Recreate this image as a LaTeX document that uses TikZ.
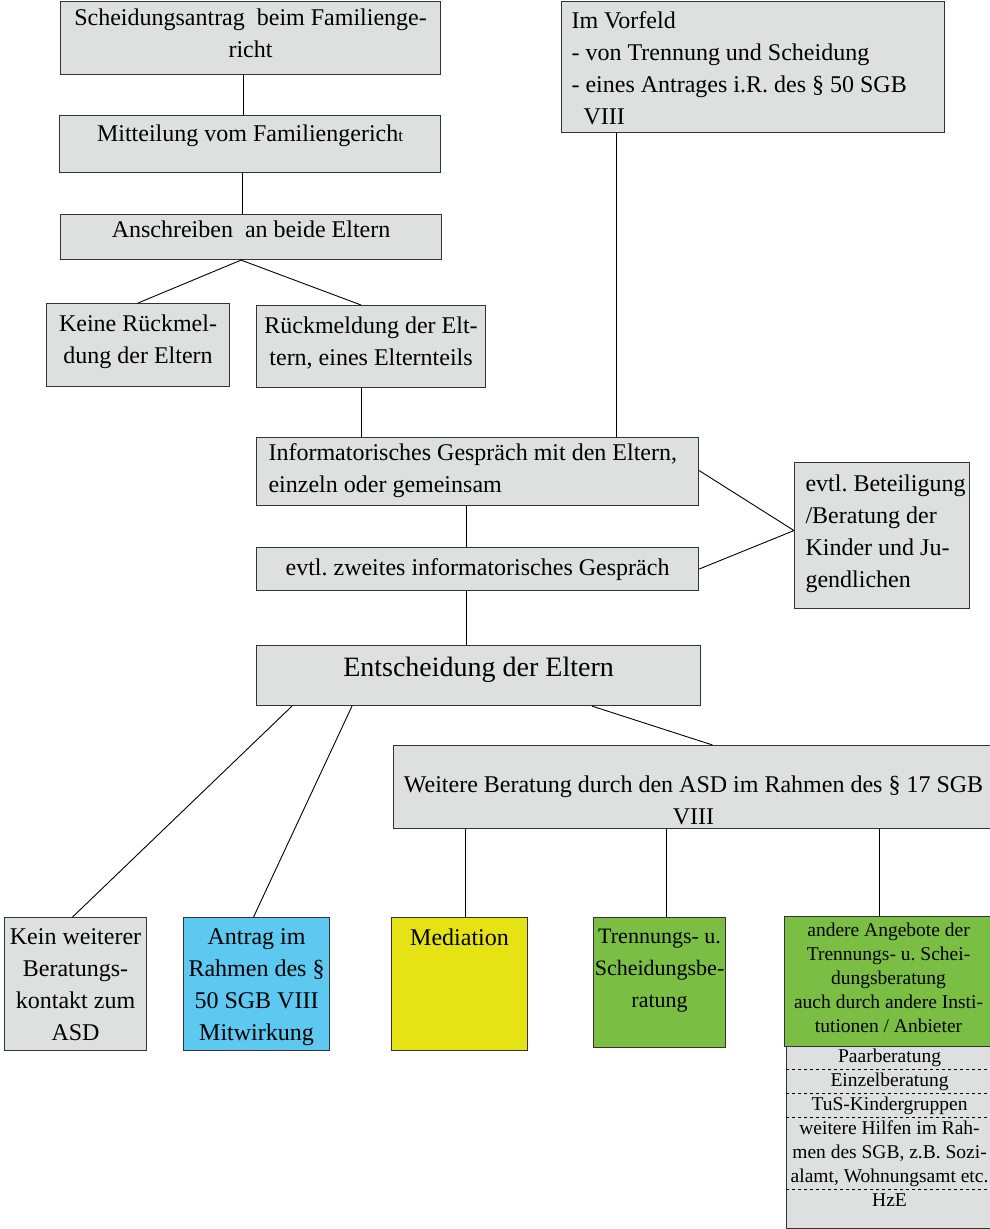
\documentclass[tikz,border=0pt]{standalone}
\usepackage{fontspec}
\setmainfont{Liberation Serif}
\definecolor{boxgrey}{RGB}{221,224,223}
\definecolor{boxblue}{RGB}{93,201,240}
\definecolor{boxyellow}{RGB}{229,227,20}
\definecolor{boxgreen}{RGB}{122,191,67}
\tikzset{
  % boxes are placed by their top left corner, in pixels of the page
  flow box/.style={draw=black!80,line width=1.1pt,inner sep=0pt,anchor=north west,
    font=\fontsize{24}{32}\selectfont},
  grey box/.style={flow box,fill=boxgrey},
  blue box/.style={flow box,fill=boxblue},
  yellow box/.style={flow box,fill=boxyellow},
  green box/.style={flow box,fill=boxgreen},
  small text/.style={font=\fontsize{19.5}{24}\selectfont},
  link/.style={draw,black,line width=0.9pt}
}
% width, height, gap on top, text
\newcommand\boxtext[4]{%
  \parbox[t][#2pt][t]{#1pt}{\frenchspacing\vspace*{#3pt}#4}%
}

\begin{document}
\begin{tikzpicture}[x=1pt,y=-1pt]
\useasboundingbox (0,0) rectangle (990,1229);
% left column
\node[grey box] (antrag) at (60,1) {\boxtext{380}{73}{7}{\centering Scheidungsantrag\ \ beim Familienge-\\richt}};
\node[grey box] (mitteil) at (59,115) {\boxtext{381}{57}{9}{\centering Mitteilung vom Familiengerich{\fontsize{17}{17}\selectfont t}}};
\node[grey box] (anschr) at (60,214) {\boxtext{381}{45}{6}{\centering Anschreiben\ \ an beide Eltern}};
\node[grey box] (keine) at (46,303) {\boxtext{183}{83}{11}{\centering Keine Rückmel-\\dung der Eltern}};
\node[grey box] (rueck) at (256,305) {\boxtext{229}{82}{11}{\centering Rückmeldung der Elt-\\tern, eines Elternteils}};
\node[grey box] (vorfeld) at (561,1) {\boxtext{383}{131}{10}{\raggedright\leftskip=10pt Im Vorfeld\\- von Trennung und Scheidung\\- eines Antrages i.R. des § 50 SGB\\\hspace*{12pt}VIII}};
% talks
\node[grey box] (info) at (256,437) {\boxtext{442}{68}{6}{\raggedright\leftskip=12pt Informatorisches Gespräch mit den Eltern,\\einzeln oder gemeinsam}};
\node[grey box] (zweit) at (256,547) {\boxtext{442}{43}{11}{\centering evtl. zweites informatorisches Gespräch}};
\node[grey box] (beteil) at (794,462) {\boxtext{175}{146}{12}{\raggedright\leftskip=11pt evtl. Beteiligung\\/Beratung der\\Kinder und Ju-\\gendlichen}};
\node[grey box,font=\fontsize{28}{34}\selectfont] (entsch) at (256,645) {\boxtext{444}{60}{12}{\centering Entscheidung der Eltern}};
\node[grey box] (weitere) at (393,745) {\boxtext{600}{83}{30}{\centering Weitere Beratung durch den ASD im Rahmen des § 17 SGB\\VIII}};
% bottom row
\node[grey box] (kein) at (4,917) {\boxtext{142}{133}{11}{\centering Kein weiterer\\Beratungs-\\kontakt zum\\ASD}};
\node[blue box] (mitwirk) at (183,917) {\boxtext{146}{133}{11}{\centering Antrag im\\Rahmen des §\\50 SGB VIII\\Mitwirkung}};
\node[yellow box] (media) at (391,917) {\boxtext{136}{133}{11}{\centering Mediation}};
\node[green box,font=\fontsize{22}{32}\selectfont] (trenn) at (593,917) {\boxtext{132}{130}{12}{\centering Trennungs-~u.\\Scheidungsbe-\\ratung}};
\node[green box,small text] (andere) at (784,916) {\boxtext{208}{130}{6}{\centering andere Angebote der\\Trennungs- u. Schei-\\dungsberatung\\auch durch andere Insti-\\tutionen / Anbieter}};
\node[grey box,small text] (hilfen) at (786,1046) {\boxtext{206}{182}{2}{\centering Paarberatung\\Einzelberatung\\TuS-Kindergruppen\\weitere Hilfen im Rah-\\men des SGB, z.B. Sozi-\\alamt, Wohnungsamt etc.\\HzE}};
\foreach \d in {23,47,71,143}
  \draw[dashed,line width=0.9pt] ([yshift=-\d]hilfen.north west) -- ([yshift=-\d]hilfen.north east);

% connectors
\draw[link] ([xshift=-7]antrag.south) -- ([xshift=-7]antrag.south |- mitteil.north);
\draw[link] ([xshift=-8]mitteil.south) -- ([xshift=-8]mitteil.south |- anschr.north);
\draw[link] (keine.north) -- ([xshift=-10]anschr.south) -- ([xshift=-10]rueck.north);
\draw[link] ([xshift=-10]rueck.south) -- ([xshift=-10]rueck.south |- info.north);
\draw[link] ([xshift=55]vorfeld.south west) -- ([xshift=55]vorfeld.south west |- info.north);
\draw[link] ([xshift=-11]info.south) -- ([xshift=-11]info.south |- zweit.north);
\draw[link] ([xshift=-11]zweit.south) -- ([xshift=-11]zweit.south |- entsch.north);
\draw[link] ([yshift=1]info.east) -- ([yshift=5]beteil.west) -- (zweit.east);
\draw[link] ([xshift=36]entsch.south west) -- ([xshift=-3]kein.north);
\draw[link] ([xshift=96]entsch.south west) -- ([xshift=-3]mitwirk.north);
\draw[link] ([xshift=336]entsch.south west) -- ([xshift=19]weitere.north);
\draw[link] ([xshift=6]media.north) -- ([xshift=6]media.north |- weitere.south);
\draw[link] ([xshift=7]trenn.north) -- ([xshift=7]trenn.north |- weitere.south);
\draw[link] ([xshift=-9]andere.north) -- ([xshift=-9]andere.north |- weitere.south);
\end{tikzpicture}
\end{document}
